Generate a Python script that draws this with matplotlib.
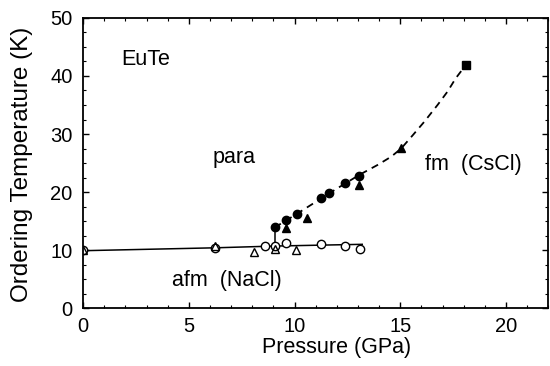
import matplotlib.pyplot as plt
import numpy as np
from matplotlib.ticker import MultipleLocator

plt.rcParams['font.family'] = ['Liberation Sans', 'DejaVu Sans']

# afm (NaCl) phase, open symbols
afm_circle_p = [0, 6.25, 8.6, 9.06, 9.6, 11.25, 12.4, 13.1]
afm_circle_t = [10.0, 10.4, 10.7, 10.7, 11.3, 11.0, 10.7, 10.2]
afm_tri_p = [0, 6.25, 8.07, 9.06, 10.08]
afm_tri_t = [10.0, 10.7, 9.6, 10.2, 10.0]
afm_line_p = [0, 6.25, 9.06, 13.2]
afm_line_t = [9.9, 10.4, 10.7, 11.0]

# fm (CsCl) phase, filled symbols
fm_circle_p = [9.06, 9.6, 10.1, 11.25, 11.64, 12.4, 13.05]
fm_circle_t = [13.9, 15.2, 16.3, 18.9, 19.8, 21.5, 22.8]
fm_tri_p = [9.6, 10.58, 13.05, 15.04]
fm_tri_t = [13.8, 15.6, 21.3, 27.6]
fm_sq_p = [18.1]
fm_sq_t = [41.9]
fm_curve_p = [9.06, 10, 11, 12, 13.08, 13.94, 14.57, 15.04, 15.59, 16.13, 16.76, 17.23, 17.62, 18.1]
fm_curve_t = [13.9, 16.0, 18.3, 20.6, 23.0, 24.7, 26.1, 27.5, 29.8, 32.1, 35.0, 37.3, 39.6, 41.9]

fig = plt.figure(figsize=(5.5, 3.66), dpi=100)
ax = fig.add_axes([0.151, 0.158, 0.846, 0.793])

ax.plot(afm_line_p, afm_line_t, color='black', lw=1.1)
ax.plot([9.06, 9.06], [10.7, 13.9], color='black', lw=1.1)
ax.plot(fm_curve_p, fm_curve_t, color='black', lw=1.3, ls=(0, (4, 3)))

ax.plot(afm_circle_p, afm_circle_t, 'o', mfc='white', mec='black', ms=6, mew=1.0)
ax.plot(afm_tri_p, afm_tri_t, '^', mfc='none', mec='black', ms=6, mew=1.0)
ax.plot(fm_circle_p, fm_circle_t, 'o', color='black', ms=6)
ax.plot(fm_tri_p, fm_tri_t, '^', color='black', ms=5.5)
ax.plot(fm_sq_p, fm_sq_t, 's', color='black', ms=5.5)

ax.text(1.8, 42.8, 'EuTe', fontsize=15.5, va='center', ha='left')
ax.text(6.1, 26.0, 'para', fontsize=15.5, va='center', ha='left')
ax.text(16.15, 24.7, 'fm  (CsCl)', fontsize=15.5, va='center', ha='left')
ax.text(4.2, 4.8, 'afm  (NaCl)', fontsize=15.5, va='center', ha='left')

ax.set_xlim(0, 22)
ax.set_ylim(0, 50)
ax.xaxis.set_major_locator(MultipleLocator(5))
ax.xaxis.set_minor_locator(MultipleLocator(1))
ax.yaxis.set_major_locator(MultipleLocator(10))
ax.yaxis.set_minor_locator(MultipleLocator(2.5))
ax.tick_params(which='both', direction='in', top=True, right=True, labelsize=14.5)
ax.tick_params(which='major', length=4, width=1)
ax.tick_params(axis='x', which='major', pad=6)
ax.tick_params(axis='y', which='major', pad=7.5)
ax.tick_params(which='minor', length=2.5, width=0.8)
for s in ax.spines.values():
    s.set_linewidth(1.3)

ax.set_xlabel('Pressure (GPa)', fontsize=15.5)
ax.set_ylabel('Ordering Temperature (K)', fontsize=17.5)
ax.xaxis.set_label_coords(0.544, -0.10)
ax.yaxis.set_label_coords(-0.108, 0.497)

fig.savefig('out.png', dpi=100)
